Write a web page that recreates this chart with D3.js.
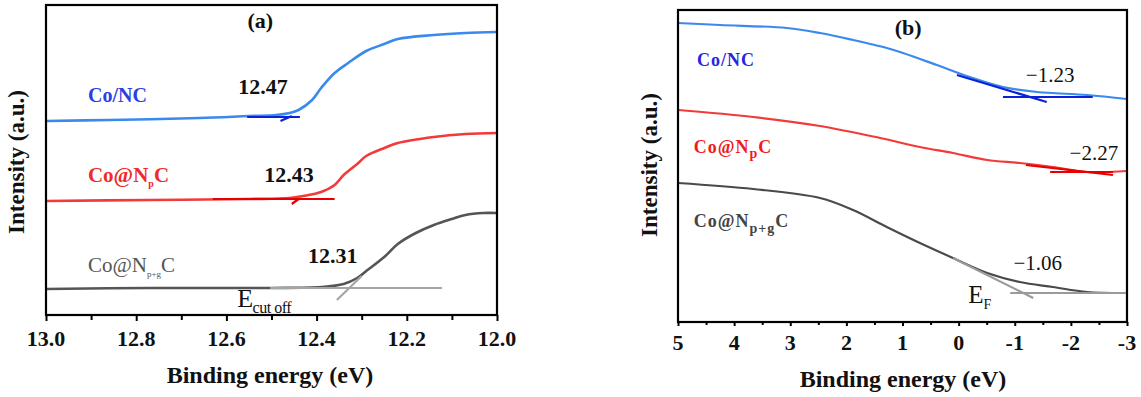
<!DOCTYPE html>
<html>
<head>
<meta charset="utf-8">
<script src="https://cdn.jsdelivr.net/npm/d3@7"></script>
<style>
  svg text, svg g text, svg text tspan { font-family: "Liberation Serif", "Times New Roman", serif !important; }
</style>
</head>
<body style="margin:0;background:#fff">
<script>
// ---- panel (a): secondary electron cutoff ----
var aTicks = [13.0, 12.8, 12.6, 12.4, 12.2, 12.0];
var aTickLabels = ["13.0", "12.8", "12.6", "12.4", "12.2", "12.0"];
var aMinor = [12.9, 12.7, 12.5, 12.3, 12.1];

var aBlueE = [13.0, 12.86, 12.66, 12.55, 12.49, 12.46, 12.44, 12.41, 12.39, 12.36, 12.33, 12.29, 12.25, 12.22, 12.14, 12.07, 12.0];
var aBlueI = [194, 195, 197, 199, 200, 202, 205, 215, 227, 242, 252, 264, 271, 276, 280, 282, 283];
var aRedE = [13.0, 12.77, 12.55, 12.46, 12.43, 12.39, 12.36, 12.34, 12.31, 12.29, 12.25, 12.22, 12.14, 12.07, 12.0];
var aRedI = [114, 115, 116, 117, 119, 123, 130, 140, 151, 159, 167, 172, 178, 181, 182];
var aGrayE = [13.0, 12.77, 12.50, 12.39, 12.34, 12.31, 12.29, 12.25, 12.22, 12.18, 12.14, 12.10, 12.07, 12.03, 12.0];
var aGrayI = [26, 27, 27, 28, 31, 37, 44, 58, 71, 82, 90, 96, 100, 102, 102];

// fitted tangent lines, [E, I] end points
var aBlueFit = [[[12.554, 198], [12.437, 198]], [[12.48, 194], [12.455, 199]]];
var aRedFit = [[[12.63, 116], [12.36, 116]], [[12.455, 111], [12.44, 116]]];
var aGrayFit = [[[12.503, 27], [12.122, 27]], [[12.355, 15], [12.30, 39]]];

// ---- panel (b): valence band edge ----
var bTicks = [5, 4, 3, 2, 1, 0, -1, -2, -3];
var bTickLabels = ["5", "4", "3", "2", "1", "0", "-1", "-2", "-3"];
var bMinor = [4.5, 3.5, 2.5, 1.5, 0.5, -0.5, -1.5, -2.5];

var bBlueE = [5.0, 4.25, 3.06, 2.47, 1.88, 1.28, 0.99, 0.39, -0.20, -0.79, -1.40, -2.29, -3.0];
var bBlueI = [299, 297, 294, 289, 282, 274, 269, 257, 245, 235, 230, 227, 223];
var bRedE = [5.0, 3.66, 2.47, 1.40, 0.69, 0.10, -0.51, -1.09, -1.68, -2.29, -3.0];
var bRedI = [212, 205, 196, 184, 175, 169, 162, 159, 155, 150, 151];
var bGrayE = [5.0, 3.66, 2.47, 1.88, 1.28, 0.69, 0.10, -0.51, -1.09, -1.68, -2.29, -3.0];
var bGrayI = [139, 133, 124, 112, 95, 79, 64, 49, 40, 35, 30, 29];

var bBlueFit = [[[-0.79, 225], [-2.39, 225]], [[0.03, 247], [-1.57, 220]]];
var bRedFit = [[[-1.63, 150], [-2.75, 150]], [[-1.2, 157], [-2.75, 147]]];
var bGrayFit = [[[-0.92, 29], [-3.0, 29]], [[0.10, 64], [-1.33, 24]]];

var cutoffValues = ["12.47", "12.43", "12.31"];
var edgeValues = ["\u22121.23", "\u22122.27", "\u22121.06"];

var FONT = "Liberation Serif";

var svg = d3.select("body")
  .append("svg")
  .attr("width", 1141)
  .attr("height", 397)
  .attr("font-family", FONT);

var blue = "#3a8aee", red = "#f23a3a", gray = "#555555";

function zip(e, v) {
  return e.map(function (d, i) { return [d, v[i]]; });
}

// all text goes straight on the svg root
function addText() {
  return svg.append("text")
    .attr("font-family", FONT)
    .style("fill", "#111");
}

// text with subscripts: parts = [[string, isSub], ...]
function rich(x, y, parts, o) {
  var t = addText()
    .attr("x", x).attr("y", y)
    .attr("font-size", o.size)
    .attr("font-weight", o.weight || "normal")
    .attr("letter-spacing", o.spacing || 0)
    .attr("text-anchor", o.anchor || "start")
    .style("fill", o.color || "#111");
  var down = false;
  parts.forEach(function (p) {
    var s = t.append("tspan").text(p[0]);
    if (p[1] && !down) { s.attr("font-size", o.subSize).attr("dy", o.subShift); down = true; }
    else if (!p[1] && down) { s.attr("dy", -o.subShift); down = false; }
    else if (p[1]) { s.attr("font-size", o.subSize); }
  });
  return t;
}

function drawPanel(p) {
  var x = d3.scaleLinear().domain(p.xDomain).range(p.xRange);
  var y = d3.scaleLinear().domain(p.yDomain).range(p.yRange);
  var g = svg.append("g");

  var line = d3.line()
    .x(function (d) { return x(d[0]); })
    .y(function (d) { return y(d[1]); })
    .curve(d3.curveCatmullRom.alpha(0.5));

  p.series.forEach(function (s) {
    g.append("path")
      .attr("d", line(s.data))
      .style("fill", "none")
      .style("stroke", s.color)
      .style("stroke-width", p.lineWidth);
  });

  var straight = d3.line()
    .x(function (d) { return x(d[0]); })
    .y(function (d) { return y(d[1]); });

  p.fits.forEach(function (f) {
    f.data.forEach(function (seg) {
      g.append("path")
        .attr("d", straight(seg))
        .style("fill", "none")
        .style("stroke", f.color)
        .style("stroke-width", 2.2);
    });
  });

  // frame
  g.append("rect")
    .attr("x", p.xRange[0]).attr("y", p.yRange[1])
    .attr("width", p.xRange[1] - p.xRange[0])
    .attr("height", p.yRange[0] - p.yRange[1])
    .style("fill", "none")
    .style("stroke", "#000")
    .style("stroke-width", 2.2);

  // tick marks from d3 axes, labels placed from the same scale
  var axis = g.append("g")
    .attr("transform", "translate(0," + p.yRange[0] + ")")
    .call(d3.axisBottom(x).tickValues(p.ticks).tickSize(p.tickLen).tickFormat(""));
  axis.select(".domain").remove();
  axis.selectAll("line").style("stroke-width", 2);

  var minor = g.append("g")
    .attr("transform", "translate(0," + p.yRange[0] + ")")
    .call(d3.axisBottom(x).tickValues(p.minor).tickSize(p.tickLen - 1).tickFormat(""));
  minor.select(".domain").remove();
  minor.selectAll("line").style("stroke-width", 2);

  p.ticks.forEach(function (d, i) {
    addText()
      .attr("x", x(d)).attr("y", p.tickBase)
      .attr("text-anchor", "middle")
      .attr("font-size", p.tickFont).attr("font-weight", "bold")
      .text(p.tickLabels[i]);
  });

  addText()
    .attr("x", p.xTitle[0]).attr("y", p.xTitle[1])
    .attr("text-anchor", "middle")
    .attr("font-size", 24).attr("font-weight", "bold")
    .text("Binding energy (eV)");

  addText()
    .attr("transform", "translate(" + p.yTitle[0] + "," + p.yTitle[1] + ") rotate(-90)")
    .attr("text-anchor", "middle")
    .attr("font-size", 23).attr("font-weight", "bold")
    .text("Intensity (a.u.)");

  addText()
    .attr("x", x(p.tag[0])).attr("y", y(p.tag[1]))
    .attr("text-anchor", "middle")
    .attr("font-size", 22).attr("font-weight", "bold")
    .text(p.tag[2]);

  p.labels.forEach(function (l) {
    rich(x(l.at[0]), y(l.at[1]), l.parts, l.style);
  });
}

drawPanel({
  xDomain: [13.0, 12.0], xRange: [46, 497],
  yDomain: [0, 310], yRange: [315, 5],
  ticks: aTicks, tickLabels: aTickLabels, minor: aMinor,
  tickLen: 6, tickBase: 346, tickFont: 22,
  lineWidth: 2.6,
  xTitle: [270, 383], yTitle: [24, 162],
  tag: [12.525, 287, "(a)"],
  series: [
    { data: zip(aBlueE, aBlueI), color: blue },
    { data: zip(aRedE, aRedI), color: red },
    { data: zip(aGrayE, aGrayI), color: gray }
  ],
  fits: [
    { data: aGrayFit, color: "#a5a5a5" },
    { data: aRedFit, color: "#e60000" },
    { data: aBlueFit, color: "#0a22d8" }
  ],
  labels: [
    { at: [12.907, 213], parts: [["Co/NC", 0]], style: { size: 20, weight: "bold", color: "#2a3ee6" } },
    { at: [12.519, 221], parts: [[cutoffValues[0], 0]], style: { size: 22, weight: "bold", anchor: "middle" } },
    { at: [12.907, 133], parts: [["Co@N", 0], ["p", 1], ["C", 0]], style: { size: 21, weight: "bold", color: "#f02a2a", subSize: 10, subShift: 5 } },
    { at: [12.461, 133], parts: [[cutoffValues[1], 0]], style: { size: 22, weight: "bold", anchor: "middle" } },
    { at: [12.907, 43], parts: [["Co@N", 0], ["p+g", 1], ["C", 0]], style: { size: 21, color: "#555", subSize: 9, subShift: 5 } },
    { at: [12.364, 52], parts: [[cutoffValues[2], 0]], style: { size: 22, weight: "bold", anchor: "middle" } },
    { at: [12.576, 8], parts: [["E", 0], ["cut off", 1]], style: { size: 26, subSize: 16, subShift: 6, spacing: -0.5 } }
  ]
});

drawPanel({
  xDomain: [5, -3], xRange: [678, 1127],
  yDomain: [0, 312], yRange: [322, 10],
  ticks: bTicks, tickLabels: bTickLabels, minor: bMinor,
  tickLen: 4, tickBase: 350, tickFont: 22,
  lineWidth: 2.2,
  xTitle: [903, 387], yTitle: [657, 165],
  tag: [0.90, 287, "(b)"],
  series: [
    { data: zip(bBlueE, bBlueI), color: blue },
    { data: zip(bRedE, bRedI), color: red },
    { data: zip(bGrayE, bGrayI), color: "#4a4a4a" }
  ],
  fits: [
    { data: bGrayFit, color: "#9a9a9a" },
    { data: bRedFit, color: "#e60000" },
    { data: bBlueFit, color: "#0a22d8" }
  ],
  labels: [
    { at: [4.66, 256], parts: [["Co/NC", 0]], style: { size: 18, weight: "bold", color: "#2626dc", spacing: 1 } },
    { at: [-1.63, 240], parts: [[edgeValues[0], 0]], style: { size: 21, anchor: "middle" } },
    { at: [4.72, 169], parts: [["Co@N", 0], ["p", 1], ["C", 0]], style: { size: 18, weight: "bold", color: "#f01c1c", spacing: 1, subSize: 14, subShift: 5 } },
    { at: [-2.41, 162], parts: [[edgeValues[1], 0]], style: { size: 21, anchor: "middle" } },
    { at: [4.72, 95], parts: [["Co@N", 0], ["p+g", 1], ["C", 0]], style: { size: 18, weight: "bold", color: "#444", spacing: 1, subSize: 14, subShift: 6 } },
    { at: [-1.41, 52], parts: [[edgeValues[2], 0]], style: { size: 21, anchor: "middle" } },
    { at: [-0.17, 19], parts: [["E", 0], ["F", 1]], style: { size: 25, subSize: 14, subShift: 6 } }
  ]
});
</script>
</body>
</html>
